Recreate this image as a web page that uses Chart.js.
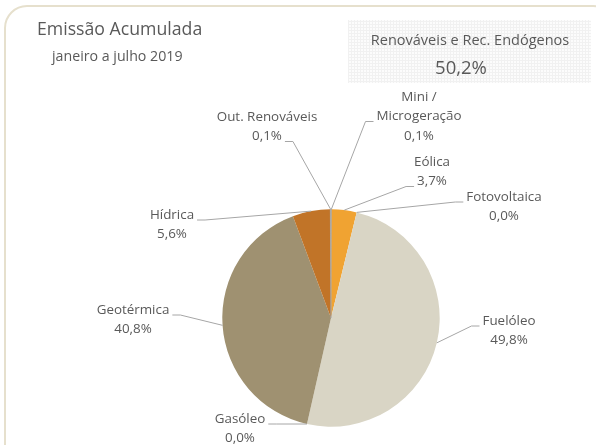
<!DOCTYPE html>
<html>
<head>
<meta charset="utf-8">
<script src="https://cdn.jsdelivr.net/npm/chart.js@4"></script>
<style>
    html, body { margin: 0; padding: 0; background: #fff; }
    #wrap { position: relative; width: 596px; height: 445px; }
</style>
</head>
<body>
<div id="wrap"><canvas id="pieChart" width="596" height="445"></canvas></div>
<script>
// data (clockwise from 12 o'clock)
const categories = ["Mini / Microgeração", "Eólica", "Fotovoltaica", "Fuelóleo", "Gasóleo", "Geotérmica", "Hídrica", "Out. Renováveis"];
const labelLines = [["Mini /", "Microgeração"], ["Eólica"], ["Fotovoltaica"], ["Fuelóleo"], ["Gasóleo"], ["Geotérmica"], ["Hídrica"], ["Out. Renováveis"]];
const shares = [0.1, 3.7, 0.0, 49.8, 0.0, 40.8, 5.6, 0.1];
const sliceColors = ["#a6a6a6", "#f0a332", "#e8e8e8", "#d9d5c5", "#8c8c8c", "#9f9171", "#c17428", "#a6a6a6"];
const titleText = "Emissão Acumulada";
const subtitleText = "janeiro a julho 2019";
const boxTitle = "Renováveis e Rec. Endógenos";
const boxValue = "50,2%";

// label layout: text centre x, first line centre y, side the leader meets, line index it meets
const labelLayout = [
    { x: 419, y: 97, side: "left", line: 1 },
    { x: 432, y: 162, side: "left", line: 1 },
    { x: 504, y: 197, side: "left", line: 0 },
    { x: 509, y: 321, side: "left", line: 0 },
    { x: 240, y: 419, side: "right", line: 0 },
    { x: 133, y: 310, side: "right", line: 0 },
    { x: 172, y: 215, side: "right", line: 0 },
    { x: 267, y: 117, side: "right", line: 1 }
];

const FONT = "'Open Sans', 'Noto Sans', sans-serif";
const TEXT = "#595959";

function fmt(v) {
    return v.toFixed(1).replace(".", ",") + "%";
}

const framePlugin = {
    id: "frame",
    beforeDraw(chart) {
        const ctx = chart.ctx;
        ctx.save();
        ctx.strokeStyle = "#e6e0cd";
        ctx.lineWidth = 2;
        ctx.beginPath();
        ctx.roundRect(5, 6, 610, 460, 22);
        ctx.stroke();

        // hatched box top right
        const p = document.createElement("canvas");
        p.width = 3; p.height = 3;
        const pc = p.getContext("2d");
        pc.fillStyle = "#fcfcfc";
        pc.fillRect(0, 0, 3, 3);
        pc.fillStyle = "#f1f1f1";
        pc.fillRect(0, 0, 3, 1);
        pc.fillRect(0, 0, 1, 3);
        ctx.fillStyle = ctx.createPattern(p, "repeat");
        ctx.fillRect(348, 20, 243, 63);

        ctx.fillStyle = TEXT;
        ctx.textBaseline = "middle";
        ctx.textAlign = "left";
        ctx.font = "17.7px " + FONT;
        ctx.fillText(titleText, 37, 30);
        ctx.font = "14.2px " + FONT;
        ctx.fillText(subtitleText, 52, 57);

        ctx.textAlign = "center";
        ctx.font = "14.5px " + FONT;
        ctx.fillText(boxTitle, 470, 41);
        ctx.font = "18.5px " + FONT;
        ctx.fillText(boxValue, 461, 69);
        ctx.restore();
    }
};

const leaderPlugin = {
    id: "leaders",
    afterDatasetsDraw(chart) {
        const ctx = chart.ctx;
        const arcs = chart.getDatasetMeta(0).data;
        ctx.save();
        ctx.font = "13.4px " + FONT;
        ctx.textBaseline = "middle";
        ctx.textAlign = "center";
        arcs.forEach((arc, i) => {
            const lay = labelLayout[i];
            const lines = labelLines[i].concat([fmt(shares[i])]);
            const lh = 19.5;
            ctx.fillStyle = TEXT;
            lines.forEach((t, k) => ctx.fillText(t, lay.x, lay.y + k * lh));

            const w = ctx.measureText(lines[lay.line]).width;
            const dir = lay.side === "left" ? -1 : 1;
            const ax = lay.x + dir * (w / 2 + 3);
            const ay = lay.y + lay.line * lh + 5;
            const ex = ax + dir * 8;

            const mid = (arc.startAngle + arc.endAngle) / 2;
            const px = arc.x + Math.cos(mid) * arc.outerRadius;
            const py = arc.y + Math.sin(mid) * arc.outerRadius;

            ctx.strokeStyle = "#a6a6a6";
            ctx.lineWidth = 1;
            ctx.beginPath();
            ctx.moveTo(px, py);
            ctx.lineTo(ex, ay);
            ctx.lineTo(ax, ay);
            ctx.stroke();
        });
        ctx.restore();
    }
};

new Chart(document.getElementById("pieChart"), {
    type: "pie",
    data: {
        labels: categories,
        datasets: [{
            data: shares,
            backgroundColor: sliceColors,
            borderColor: sliceColors,
            borderWidth: [0.6, 0, 0, 0, 0, 0, 0, 0.6]
        }]
    },
    options: {
        responsive: false,
        animation: false,
        layout: {
            padding: { top: 209, bottom: 18, left: 222, right: 156 }
        },
        plugins: {
            legend: { display: false },
            tooltip: { enabled: false }
        }
    },
    plugins: [framePlugin, leaderPlugin]
});
</script>
</body>
</html>
